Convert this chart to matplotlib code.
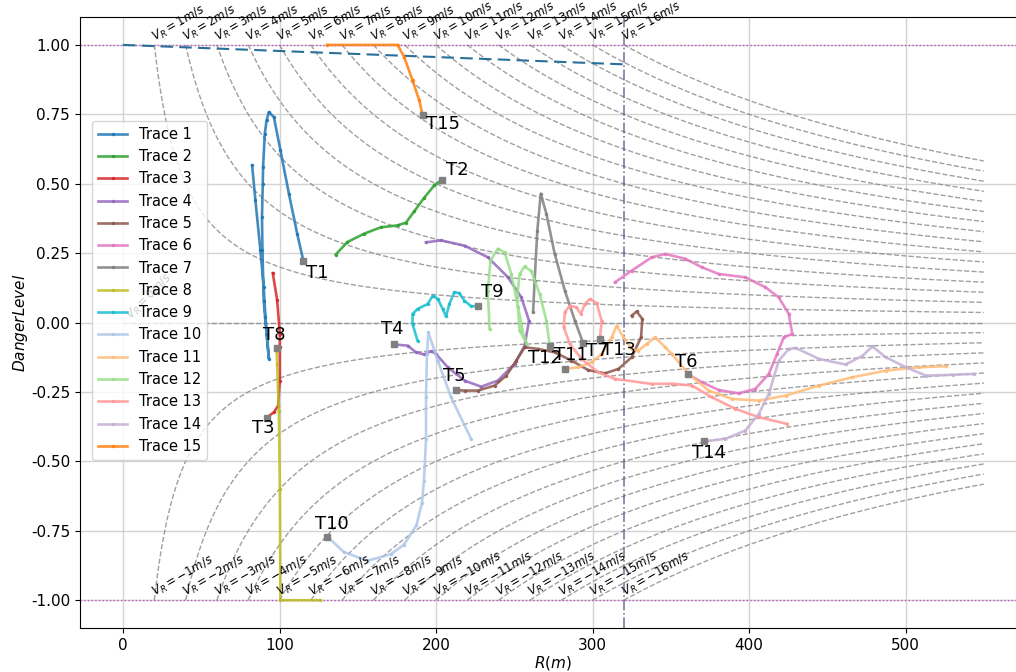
import numpy as np
import matplotlib
matplotlib.use('Agg')
import matplotlib.pyplot as plt

# iso-speed curves : DangerLevel = T0 * V / R
t0 = 20.0
r_max = 550.0
speeds = list(range(-16, 17))

# trace data (R in m, danger level) #########################################
r1 = [82.5, 84.6, 87.8, 89.9, 91.0, 93.2, 91.7, 89.9, 89.1, 88.8, 89.3, 89.5,
      90.6, 91.7, 93.2, 96.4, 100.6, 106.0, 111.3, 115.2]
d1 = [0.566, 0.44, 0.26, 0.127, 0.02, -0.13, -0.04, 0.079, 0.26, 0.38, 0.50,
      0.56, 0.68, 0.728, 0.758, 0.74, 0.62, 0.464, 0.32, 0.223]

r2 = [135.9, 143.4, 154.0, 164.7, 175.4, 180.8, 186.0, 192.5, 198.9, 203.8]
d2 = [0.245, 0.29, 0.32, 0.343, 0.35, 0.36, 0.40, 0.45, 0.494, 0.515]

r3 = [95.7, 98.5, 100.2, 100.2, 100.2, 99.1, 96.4, 91.7]
d3 = [0.178, 0.08, -0.04, -0.089, -0.209, -0.30, -0.323, -0.343]

r4 = [193.6, 203.2, 218.2, 233.1, 246.0, 254.5, 259.4, 256.6, 250.2, 239.5,
      228.8, 218.2, 207.5, 200.0, 196.8, 192.5, 187.2, 181.9, 172.9]
d4 = [0.289, 0.296, 0.277, 0.235, 0.163, 0.091, 0.007, -0.083, -0.149, -0.209,
      -0.231, -0.209, -0.161, -0.113, -0.103, -0.115, -0.107, -0.083, -0.079]

r5 = [325.0, 328.2, 331.8, 331.0, 325.0, 316.5, 307.9, 297.2, 286.5, 275.8,
      265.2, 256.6, 251.3, 244.9, 237.4, 226.7, 218.2, 212.8]
d5 = [0.025, 0.04, 0.013, -0.053, -0.125, -0.167, -0.183, -0.171, -0.137,
      -0.107, -0.095, -0.089, -0.137, -0.191, -0.227, -0.245, -0.245, -0.243]

r6 = [314.3, 325.0, 337.8, 346.4, 359.2, 369.9, 380.6, 397.6, 410.5, 418.9,
      425.4, 427.6, 422.2, 417.9, 412.6, 404.0, 393.4, 380.6, 369.9, 361.3]
d6 = [0.145, 0.187, 0.235, 0.247, 0.23, 0.199, 0.175, 0.163, 0.127, 0.091,
      0.031, -0.041, -0.053, -0.113, -0.185, -0.239, -0.255, -0.243, -0.215,
      -0.187]

r7 = [262.0, 263.0, 264.7, 266.9, 270.5, 275.8, 282.3, 288.7, 294.0]
d7 = [0.037, 0.151, 0.33, 0.464, 0.392, 0.248, 0.115, 0.007, -0.074]

r8 = [126.0, 100.6, 100.2, 99.6, 98.5, 98.1]
d8 = [-1.0, -1.0, -0.6, -0.32, -0.15, -0.091]

r9 = [188.2, 185.0, 185.0, 188.2, 194.7, 197.9, 201.1, 204.3, 206.4, 208.5,
      211.7, 214.9, 218.1, 222.4, 226.7]
d9 = [-0.065, -0.005, 0.031, 0.049, 0.067, 0.097, 0.085, 0.049, 0.022, 0.067,
      0.109, 0.106, 0.079, 0.059, 0.059]

r10 = [222.4, 209.6, 201.1, 195.1, 194.2, 193.6, 193.6, 192.3, 191.0, 187.5,
       179.5, 171.2, 156.2, 141.0, 130.6]
d10 = [-0.419, -0.269, -0.137, -0.035, -0.113, -0.269, -0.419, -0.569, -0.65,
       -0.73, -0.80, -0.834, -0.858, -0.826, -0.771]

r11 = [525.8, 508.8, 487.4, 466.0, 444.7, 423.3, 406.2, 389.1, 374.2, 361.3,
       350.6, 346.4, 340.0, 334.6, 329.3, 325.0, 319.7, 315.4, 312.2, 305.8,
       299.4, 290.8, 282.3]
d11 = [-0.157, -0.161, -0.173, -0.197, -0.227, -0.263, -0.281, -0.275, -0.245,
       -0.185, -0.113, -0.089, -0.053, -0.077, -0.101, -0.095, -0.053, -0.011,
       -0.053, -0.113, -0.143, -0.161, -0.167]

r12 = [234.2, 233.1, 234.8, 239.5, 243.8, 248.1, 252.4, 256.2, 258.3, 253.4,
       251.9, 253.4, 256.6, 260.9, 266.2, 270.5, 272.6]
d12 = [-0.023, 0.115, 0.223, 0.266, 0.253, 0.175, 0.055, -0.053, -0.079,
       -0.029, 0.091, 0.175, 0.202, 0.185, 0.103, 0.007, -0.083]

r13 = [424.4, 406.2, 391.0, 376.3, 363.5, 350.6, 337.8, 314.3, 303.6, 293.0,
       285.5, 281.6, 282.3, 285.5, 289.7, 292.5, 295.1, 298.3, 302.6, 305.8,
       304.7]
d13 = [-0.365, -0.341, -0.31, -0.269, -0.227, -0.22, -0.221, -0.203, -0.179,
       -0.131, -0.077, -0.017, 0.037, 0.061, 0.055, 0.031, 0.067, 0.085, 0.07,
       0.007, -0.059]

r14 = [544.0, 530.1, 513.0, 500.2, 487.4, 478.8, 472.4, 461.7, 444.7, 429.7,
       425.4, 419.0, 412.6, 406.2, 397.6, 384.8, 371.0]
d14 = [-0.185, -0.188, -0.191, -0.161, -0.125, -0.086, -0.12, -0.151, -0.131,
       -0.091, -0.095, -0.137, -0.257, -0.329, -0.389, -0.419, -0.428]

r15 = [130.5, 175.4, 179.7, 185.0, 189.3, 191.5]
d15 = [1.0, 1.0, 0.956, 0.872, 0.80, 0.746]

traces_r = [r1, r2, r3, r4, r5, r6, r7, r8, r9, r10, r11, r12, r13, r14, r15]
traces_d = [d1, d2, d3, d4, d5, d6, d7, d8, d9, d10, d11, d12, d13, d14, d15]
trace_names = ['Trace %d' % i for i in range(1, 16)]
end_names = ['T%d' % i for i in range(1, 16)]
trace_colors = ['#1f77b4', '#2ca02c', '#d62728', '#9467bd', '#8c564b',
                '#e377c2', '#7f7f7f', '#bcbd22', '#17becf', '#aec7e8',
                '#ffbb78', '#98df8a', '#ff9896', '#c5b0d5', '#ff7f0e']

# dashed reference line at the top
ref_r = [0.0, 160.0, 320.0]
ref_d = [1.0, 0.965, 0.93]
r_limit = 320.0

# label placement (offset in pixels, alignment)
lab_off = [(3, -3, 'left', 'top'), (4, 1, 'left', 'bottom'),
           (-3, -1, 'center', 'top'), (-1, 6, 'center', 'bottom'),
           (-2, 5, 'center', 'bottom'), (-2, 3, 'center', 'bottom'),
           (3, 1, 'left', 'top'), (-2, 4, 'center', 'bottom'),
           (3, 5, 'left', 'bottom'), (4, 4, 'center', 'bottom'),
           (6, 5, 'center', 'bottom'), (-5, -3, 'center', 'top'),
           (2, -2, 'left', 'top'), (5, -3, 'center', 'top'),
           (3, 0, 'left', 'top')]

#figure#######################################################################
fig = plt.figure(figsize=(10.16, 6.72), dpi=100)
ax = fig.add_axes([0.0787, 0.0655, 0.932, 0.909])

# iso speed curves
for v in speeds:
    if v == 0:
        rr = np.linspace(0, r_max, 50)
        dd = np.zeros_like(rr)
        ax.text(0, 0, '$V_R=0m/s$', rotation=45, fontsize=8.5,
                ha='left', va='bottom')
    else:
        rr = np.linspace(t0 * abs(v), r_max, 300)
        dd = t0 * v / rr
        ax.text(t0 * abs(v) - 3, np.sign(v), '$V_R=%dm/s$' % v, rotation=30,
                fontsize=8.5, ha='left', va='bottom')
    ax.plot(rr, dd, '--', color='gray', lw=1, alpha=0.75)

ax.axhline(1.0, color='#c050c0', ls=':', lw=1)
ax.axhline(-1.0, color='#c050c0', ls=':', lw=1)
ax.axvline(r_limit, color='#5a5a8c', ls='-.', lw=1.2, alpha=0.8)
ax.plot(ref_r, ref_d, color='#2a6f9a', ls=(0, (6, 3)), lw=1.5)

# traces
for i in range(15):
    ax.plot(traces_r[i], traces_d[i], color=trace_colors[i], lw=1.9,
            alpha=0.85, marker='.', markersize=3, label=trace_names[i])

for i in range(15):
    xe, ye = traces_r[i][-1], traces_d[i][-1]
    ax.plot(xe, ye, 's', color='gray', markersize=4)
    dx, dy, ha, va = lab_off[i]
    ax.annotate(end_names[i], (xe, ye), xytext=(dx, dy),
                textcoords='offset pixels', fontsize=13, ha=ha, va=va)

ax.set_xlim(-27.5, 577.5)
ax.set_ylim(-1.1, 1.1)
ax.set_xticks([0, 100, 200, 300, 400, 500])
ax.set_yticks(np.arange(-1.0, 1.01, 0.25))
ax.yaxis.set_major_formatter(matplotlib.ticker.FormatStrFormatter('%.2f'))
ax.tick_params(labelsize=11)
ax.grid(True, color='#d3d3d3', lw=1)
ax.set_axisbelow(True)
ax.set_xlabel('$R(m)$', fontsize=11, labelpad=1)
ax.set_ylabel('$DangerLevel$', fontsize=11, labelpad=1)

ax.legend(loc='upper left', bbox_to_anchor=(0.013, 0.83), borderaxespad=0,
          fontsize=10.5)

fig.savefig('out.png', dpi=100)
